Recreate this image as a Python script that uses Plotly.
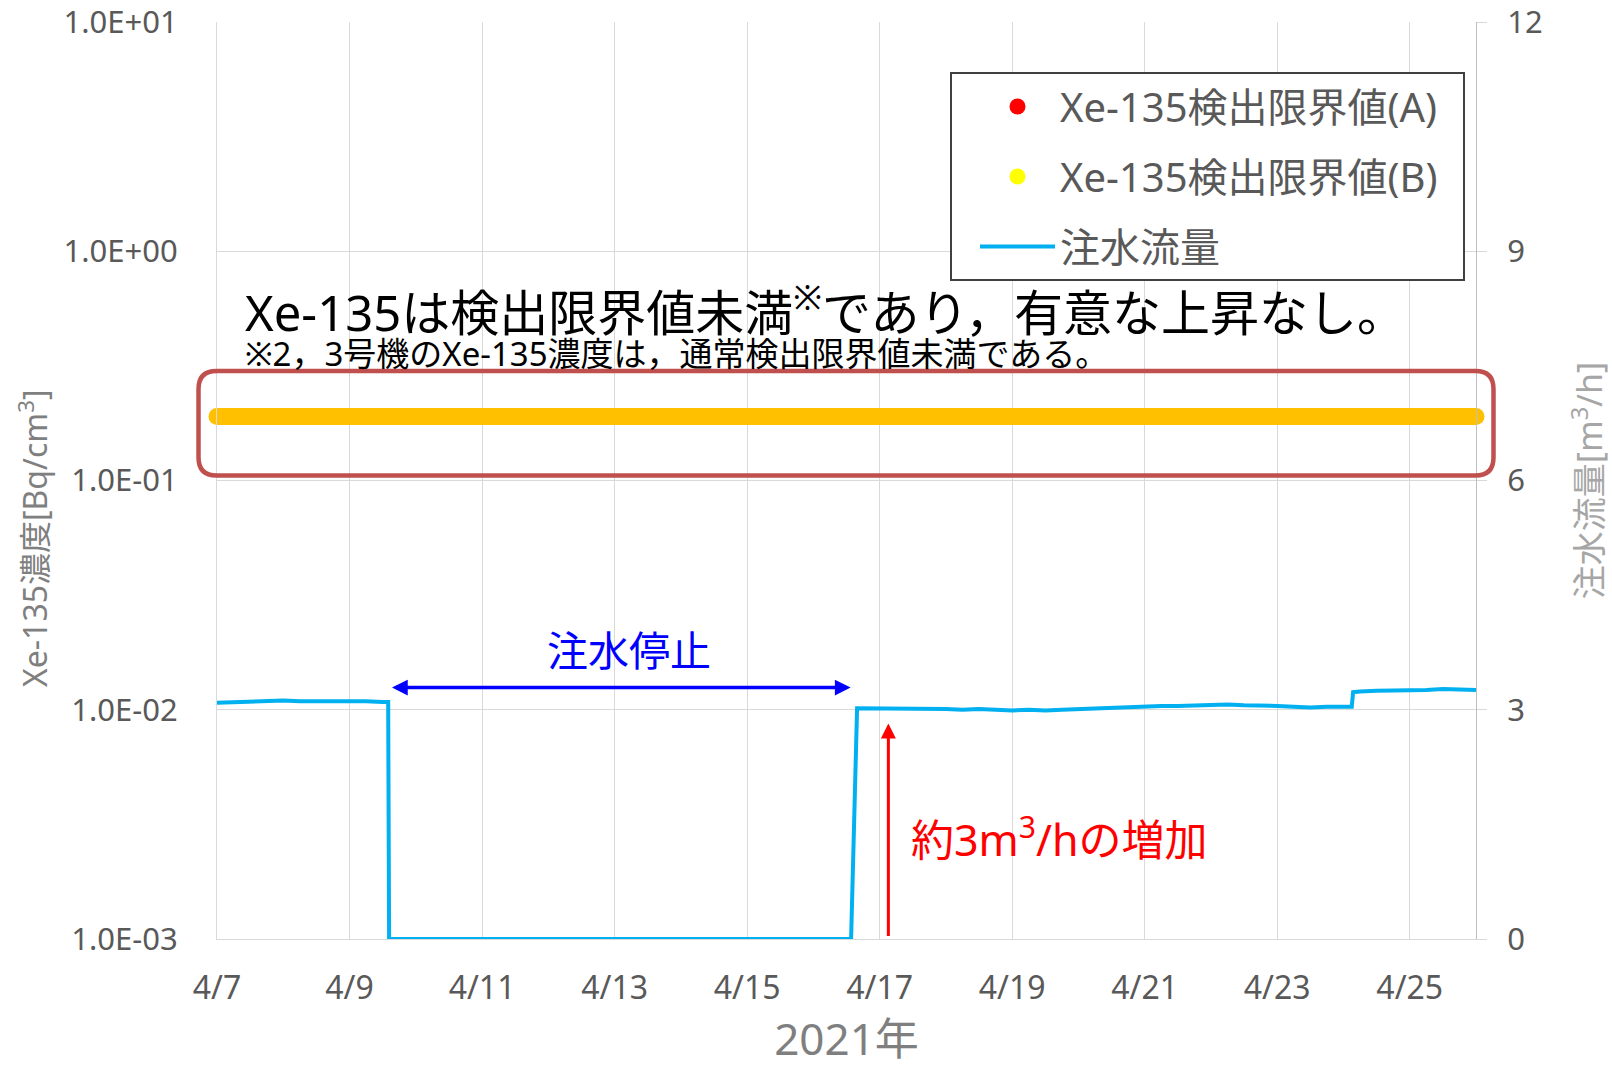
import plotly.graph_objects as go

# Injection flow rate [m3/h] sampled along the period
flow_time = [
    "2021-04-07 00:00", "2021-04-07 06:00", "2021-04-07 12:00", "2021-04-07 18:00",
    "2021-04-08 00:00", "2021-04-08 06:00", "2021-04-08 12:00", "2021-04-08 18:00",
    "2021-04-09 00:00", "2021-04-09 06:00", "2021-04-09 12:00", "2021-04-09 14:00",
    "2021-04-09 14:20", "2021-04-10 00:00", "2021-04-11 00:00", "2021-04-12 00:00",
    "2021-04-13 00:00", "2021-04-14 00:00", "2021-04-15 00:00", "2021-04-16 00:00",
    "2021-04-16 13:40", "2021-04-16 15:50", "2021-04-17 00:00", "2021-04-17 06:00",
    "2021-04-17 12:00", "2021-04-17 18:00", "2021-04-18 00:00", "2021-04-18 06:00",
    "2021-04-18 12:00", "2021-04-18 18:00", "2021-04-19 00:00", "2021-04-19 06:00",
    "2021-04-19 12:00", "2021-04-19 18:00", "2021-04-20 00:00", "2021-04-20 06:00",
    "2021-04-20 12:00", "2021-04-20 18:00", "2021-04-21 00:00", "2021-04-21 06:00",
    "2021-04-21 12:00", "2021-04-21 18:00", "2021-04-22 00:00", "2021-04-22 06:00",
    "2021-04-22 12:00", "2021-04-22 18:00", "2021-04-23 00:00", "2021-04-23 06:00",
    "2021-04-23 12:00", "2021-04-23 18:00", "2021-04-24 00:00", "2021-04-24 03:00",
    "2021-04-24 03:30", "2021-04-24 06:00", "2021-04-24 12:00", "2021-04-24 18:00",
    "2021-04-25 00:00", "2021-04-25 06:00", "2021-04-25 12:00", "2021-04-25 18:00",
    "2021-04-26 00:00",
]
flow_rate = [
    3.09, 3.10, 3.10, 3.11,
    3.12, 3.11, 3.11, 3.12,
    3.11, 3.11, 3.10, 3.10,
    0.00, 0.00, 0.00, 0.00,
    0.00, 0.00, 0.00, 0.00,
    0.00, 3.02, 3.02, 3.01,
    3.02, 3.01, 3.01, 3.00,
    3.01, 3.00, 2.99, 3.00,
    2.99, 3.00, 3.01, 3.01,
    3.02, 3.03, 3.04, 3.05,
    3.05, 3.06, 3.06, 3.07,
    3.06, 3.06, 3.05, 3.04,
    3.03, 3.04, 3.04, 3.04,
    3.23, 3.24, 3.25, 3.25,
    3.26, 3.26, 3.27, 3.26,
    3.26,
]

# Xe-135 detection limit level [Bq/cm3]
limit_time = ["2021-04-07 00:00", "2021-04-26 00:00"]
limit_value = [0.19, 0.19]

# Injection stop period and the later flow increase
stop_start = "2021-04-09 14:50"
stop_end = "2021-04-16 13:30"
increase_time = "2021-04-17 03:10"
increase_from = 0.02
increase_to = 2.82

conc_tickvals = [1e-3, 1e-2, 1e-1, 1e0, 1e1]
conc_ticktext = ["1.0E-03", "1.0E-02", "1.0E-01", "1.0E+00", "1.0E+01"]
flow_tickvals = [0, 3, 6, 9, 12]
flow_ticktext = ["0", "3", "6", "9", "12"]

FONT = "Noto Sans, Noto Sans CJK JP"
TICK = "#595959"
GRID = "#D9D9D9"

# plot area geometry in pixels (for paper-space decorations)
W, H = 1612, 1068
ML, MR, MT, MB = 217, 136, 22, 129
PW, PH = W - ML - MR, H - MT - MB


def px(x):
    return (x - ML) / PW


def py(y):
    return (H - MB - y) / PH


fig = go.Figure()

# legend entries for the two detection-limit series
fig.add_trace(go.Scatter(
    x=[None], y=[None], mode="markers", name="Xe-135検出限界値(A)\u2002",
    marker=dict(color="#FF0000", size=16), legendgroup="a",
))
fig.add_trace(go.Scatter(
    x=[None], y=[None], mode="markers", name="Xe-135検出限界値(B)\u2002",
    marker=dict(color="#FFFF00", size=16), legendgroup="b",
))

# detection limit band (thick line with rounded ends)
fig.add_trace(go.Scatter(
    x=limit_time, y=limit_value, mode="lines+markers", showlegend=False,
    line=dict(color="#FFC000", width=17),
    marker=dict(color="#FFC000", size=17, line=dict(width=0)),
    cliponaxis=False, hoverinfo="skip",
))

# injection flow
fig.add_trace(go.Scatter(
    x=flow_time, y=flow_rate, mode="lines", name="注水流量", yaxis="y2",
    line=dict(color="#00B0F0", width=4), legendgroup="c",
))

# rounded highlight box around the detection limit band
L, R, T, B, r = 198.5, 1493.5, 371, 475.5, 18
pts = [
    ("M", (L + r, T)), ("L", (R - r, T)), ("Q", (R, T), (R, T + r)),
    ("L", (R, B - r)), ("Q", (R, B), (R - r, B)), ("L", (L + r, B)),
    ("Q", (L, B), (L, B - r)), ("L", (L, T + r)), ("Q", (L, T), (L + r, T)),
]
path = ""
for cmd, *coords in pts:
    path += cmd + " ".join(f"{px(a):.5f},{py(b):.5f}" for a, b in coords) + " "
path += "Z"
fig.add_shape(type="path", path=path, xref="paper", yref="paper",
              line=dict(color="#C0504D", width=4.5), fillcolor="rgba(0,0,0,0)")

annotations = [
    dict(text="Xe-135は検出限界値未満<sup>※</sup>であり，有意な上昇なし。",
         x=px(243), y=py(309), xref="paper", yref="paper",
         xanchor="left", yanchor="middle", showarrow=False,
         font=dict(family=FONT, size=49, color="#000000")),
    dict(text="※2，3号機のXe-135濃度は，通常検出限界値未満である。",
         x=px(243), y=py(353), xref="paper", yref="paper",
         xanchor="left", yanchor="middle", showarrow=False,
         font=dict(family=FONT, size=33, color="#000000")),
    dict(text="注水停止", x=px(629), y=py(650), xref="paper", yref="paper",
         xanchor="center", yanchor="middle", showarrow=False,
         font=dict(family=FONT, size=41, color="#0000FF")),
    dict(text="約3m<sup>3</sup>/hの増加", x=px(909), y=py(837),
         xref="paper", yref="paper", xanchor="left", yanchor="middle",
         showarrow=False, font=dict(family=FONT, size=43, color="#FF0000")),
    # stop period double arrow
    dict(text="", x=stop_end, y=3.29, ax=stop_start, ay=3.29,
         xref="x", yref="y2", axref="x", ayref="y2", showarrow=True,
         arrowside="end+start", arrowhead=2, startarrowhead=2,
         arrowsize=0.9, startarrowsize=0.9, arrowwidth=3.5,
         arrowcolor="#0000FF"),
    # flow increase arrow
    dict(text="", x=increase_time, y=increase_to, ax=increase_time, ay=increase_from,
         xref="x", yref="y2", axref="x", ayref="y2", showarrow=True,
         arrowhead=2, arrowsize=1.0, arrowwidth=3, arrowcolor="#FF0000"),
    # left axis title
    dict(text="Xe-135濃度[Bq/cm<sup>3</sup>]", x=px(33), y=py(538),
         xref="paper", yref="paper", xanchor="center", yanchor="middle",
         textangle=-90, showarrow=False,
         font=dict(family=FONT, size=32, color="#7F7F7F")),
]

fig.update_layout(
    width=W, height=H,
    margin=dict(l=ML, r=MR, t=MT, b=MB, autoexpand=False),
    paper_bgcolor="white", plot_bgcolor="white",
    font=dict(family=FONT, color=TICK),
    annotations=annotations,
    showlegend=True,
    legend=dict(
        x=px(950), y=py(72), xanchor="left", yanchor="top",
        bgcolor="white", bordercolor="#404040", borderwidth=2,
        font=dict(family=FONT, size=40, color=TICK),
        tracegroupgap=15, itemwidth=75, indentation=23,
        traceorder="grouped",
    ),
    xaxis=dict(
        type="date", range=["2021-04-07", "2021-04-26"],
        tick0="2021-04-07", dtick=2 * 86400000, tickformat="%-m/%-d",
        showgrid=True, gridcolor=GRID, gridwidth=1,
        showline=True, linecolor=GRID, linewidth=1,
        ticks="", ticklabelstandoff=21, automargin=False,
        tickfont=dict(family=FONT, size=32, color=TICK),
        title=dict(text="2021年", standoff=25,
                   font=dict(family=FONT, size=44, color="#7F7F7F")),
        zeroline=False,
    ),
    yaxis=dict(
        type="log", range=[-3, 1],
        tickvals=conc_tickvals, ticktext=conc_ticktext,
        showgrid=True, gridcolor=GRID, gridwidth=1,
        showline=True, linecolor=GRID, linewidth=1,
        ticks="", ticklabelstandoff=32, ticklabeloverflow="allow",
        automargin=False,
        tickfont=dict(family=FONT, size=31, color=TICK),
        zeroline=False,
    ),
    yaxis2=dict(
        overlaying="y", side="right", range=[0, 12],
        tickvals=flow_tickvals, ticktext=flow_ticktext,
        showgrid=False, showline=True, linecolor="#BFBFBF", linewidth=1,
        ticks="outside", ticklen=10, tickcolor="#D9D9D9",
        ticklabelstandoff=14, ticklabeloverflow="allow", automargin=False,
        tickfont=dict(family=FONT, size=31, color=TICK),
        title=dict(text="注水流量[m<sup>3</sup>/h]", standoff=40,
                   font=dict(family=FONT, size=34, color="#A6A6A6")),
        zeroline=False,
    ),
)

fig.write_html("out.html")
